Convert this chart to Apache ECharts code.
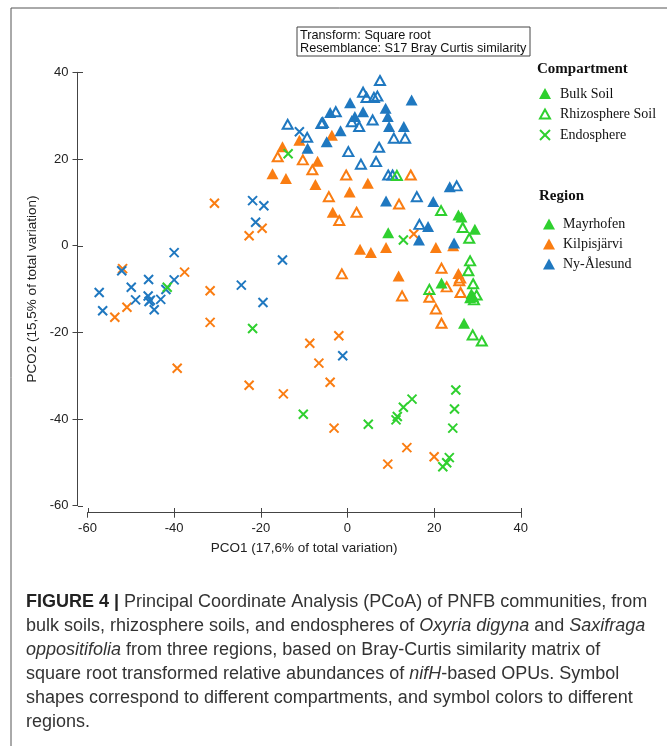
<!DOCTYPE html>
<html><head><meta charset="utf-8">
<script src="https://cdn.jsdelivr.net/npm/echarts@6/dist/echarts.min.js"></script>
<style>html,body{margin:0;padding:0;background:#fff}#c{width:667px;height:746px}</style>
</head><body><div id="c"></div>
<script>
// ---- data ----
const xTicks = [-60, -40, -20, 0, 20, 40];
const yTicks = [-60, -40, -20, 0, 20, 40];
const compartments = ['Bulk Soil', 'Rhizosphere Soil', 'Endosphere'];
const regions = ['Mayrhofen', 'Kilpisjärvi', 'Ny-Ålesund'];

const bulkMayrhofen = [[25.6,7.1],[26.3,6.6],[29.4,3.8],[9.4,3.0],[21.7,-8.6],[28.6,-11.1],[29.0,-11.8],[28.3,-12.0],[26.9,-17.9]];
const rhizoMayrhofen = [[21.6,8.1],[26.6,4.2],[28.1,1.7],[28.3,-3.5],[27.9,-5.8],[29.0,-8.8],[29.8,-11.4],[29.2,-12.5],[18.9,-10.1],[28.9,-20.6],[31.0,-22.0],[11.4,16.2]];
const endoMayrhofen = [[-10.2,-38.9],[4.8,-41.2],[11.2,-40.2],[11.5,-39.4],[12.9,-37.3],[14.9,-35.4],[25.0,-33.3],[24.7,-37.7],[24.3,-42.1],[23.5,-48.9],[22.9,-50.1],[22.0,-51.0],[-21.9,-19.1],[-41.6,-9.6],[-13.7,21.2],[12.9,1.3]];

const bulkKilpisjarvi = [[-15.0,22.8],[-11.1,24.3],[-3.6,25.5],[-6.9,19.5],[-17.3,16.6],[-14.2,15.5],[-7.4,14.1],[4.7,14.4],[0.5,12.4],[-3.4,7.7],[2.9,-0.8],[5.4,-1.6],[8.9,-0.4],[20.4,-0.4],[24.4,0.0],[11.8,-7.0],[25.6,-6.4]];
const rhizoKilpisjarvi = [[-16.1,20.5],[-10.3,19.8],[-8.1,17.5],[-0.3,16.3],[14.6,16.3],[-4.3,11.3],[2.1,7.7],[-1.9,5.8],[-1.3,-6.5],[11.9,9.6],[21.7,-5.2],[26.0,-7.5],[12.6,-11.6],[18.9,-11.9],[20.4,-14.6],[22.9,-9.5],[25.8,-8.1],[26.1,-10.8],[21.7,-17.9]];
const endoKilpisjarvi = [[-30.7,9.8],[-22.7,2.3],[-19.7,4.0],[-51.9,-5.3],[-37.6,-6.1],[-50.9,-14.2],[-53.7,-16.5],[-31.7,-10.4],[-31.7,-17.7],[-39.3,-28.3],[-22.7,-32.2],[-14.8,-34.2],[-8.7,-22.5],[-2.0,-20.8],[-6.6,-27.1],[-4.0,-31.5],[-3.1,-42.1],[13.7,-46.6],[9.3,-50.4],[20.0,-48.7],[15.3,2.7]];

const bulkNyAlesund = [[14.8,33.6],[0.6,33.0],[-4.0,30.7],[3.6,30.9],[1.7,29.8],[8.8,31.7],[9.3,29.8],[9.6,27.5],[13.0,27.5],[-1.6,26.5],[-4.8,24.0],[-9.2,22.5],[8.9,10.3],[19.8,10.2],[23.6,13.6],[18.6,4.4],[16.5,1.3],[24.6,0.6]];
const rhizoNyAlesund = [[7.5,38.1],[3.6,35.4],[4.4,34.2],[6.1,34.2],[6.9,34.5],[-2.7,30.9],[1.0,28.6],[2.7,27.5],[5.8,29.0],[-5.7,28.4],[-9.3,25.0],[10.7,24.8],[13.3,24.8],[0.2,21.7],[7.3,22.7],[3.1,18.8],[6.6,19.4],[9.4,16.3],[10.4,16.3],[25.2,13.8],[16.0,11.3],[16.6,4.9],[-13.8,28.0],[-6.0,28.2]];
const endoNyAlesund = [[-21.9,10.4],[-19.3,9.2],[-21.2,5.4],[-40.0,-1.6],[-52.1,-5.8],[-57.3,-10.8],[-49.9,-9.6],[-45.9,-7.8],[-48.9,-12.5],[-46.0,-11.6],[-45.5,-12.6],[-45.8,-12.9],[-43.1,-12.4],[-44.6,-14.8],[-56.5,-15.0],[-41.9,-10.1],[-40.0,-7.9],[-24.5,-9.1],[-19.5,-13.1],[-15.0,-3.3],[-11.1,26.3],[-1.1,-25.4]];

// ---- styles ----
const colors = { 'Mayrhofen': '#2fd02f', 'Kilpisjärvi': '#fa7d12', 'Ny-Ålesund': '#1f78c0' };
const XPATH = 'path://M0,0L10,10M10,0L0,10';

function mk(comp, region, data) {
  const c = colors[region];
  const s = { type: 'scatter', name: comp + ' ' + region, data: data, xAxisIndex: 0, yAxisIndex: 0, silent: true, animation: false };
  if (comp === 'Bulk Soil') {
    s.symbol = 'triangle'; s.symbolSize = [12, 11];
    s.itemStyle = { color: c, opacity: 1 };
  } else if (comp === 'Rhizosphere Soil') {
    s.symbol = 'triangle'; s.symbolSize = [10, 9];
    s.itemStyle = { color: 'transparent', borderColor: c, borderWidth: 2, opacity: 1 };
  } else {
    s.symbol = XPATH; s.symbolSize = 9;
    s.itemStyle = { color: 'transparent', borderColor: c, borderWidth: 2, opacity: 1 };
  }
  return s;
}

const series = [
  mk('Bulk Soil', 'Kilpisjärvi', bulkKilpisjarvi),
  mk('Rhizosphere Soil', 'Kilpisjärvi', rhizoKilpisjarvi),
  mk('Endosphere', 'Kilpisjärvi', endoKilpisjarvi),
  mk('Bulk Soil', 'Ny-Ålesund', bulkNyAlesund),
  mk('Rhizosphere Soil', 'Ny-Ålesund', rhizoNyAlesund),
  mk('Endosphere', 'Ny-Ålesund', endoNyAlesund),
  mk('Bulk Soil', 'Mayrhofen', bulkMayrhofen),
  mk('Rhizosphere Soil', 'Mayrhofen', rhizoMayrhofen),
  mk('Endosphere', 'Mayrhofen', endoMayrhofen)
];

const axisFont = { fontFamily: 'Liberation Sans', fontSize: 13, color: '#222' };
const lineStyle = { color: '#444', width: 1 };

// grid geometry
const GL = 87.5, GR = 146.2, GT = 72.3, GB = 240.3, W = 667, H = 746;
const XOFF = 7, YOFF = 10, TICK = 5;

const xAxis = {
  type: 'value', min: xTicks[0], max: xTicks[xTicks.length - 1], interval: 20,
  position: 'bottom', offset: XOFF,
  axisLine: { show: true, onZero: false, lineStyle: lineStyle },
  axisTick: { show: true, inside: false, length: TICK, lineStyle: lineStyle },
  axisLabel: { show: true, margin: 9, ...axisFont },
  splitLine: { show: false },
  name: 'PCO1 (17,6% of total variation)',
  nameLocation: 'middle', nameGap: 29,
  nameTextStyle: { fontFamily: 'Liberation Sans', fontSize: 13.5, color: '#222' }
};
const yAxis = {
  type: 'value', min: yTicks[0], max: yTicks[yTicks.length - 1], interval: 20,
  position: 'left', offset: YOFF,
  axisLine: { show: true, onZero: false, lineStyle: lineStyle },
  axisTick: { show: true, inside: false, length: TICK, lineStyle: lineStyle },
  axisLabel: { show: true, margin: 9, ...axisFont },
  splitLine: { show: false },
  name: 'PCO2 (15,5% of total variation)',
  nameLocation: 'middle', nameGap: 34, nameRotate: 90,
  nameTextStyle: { fontFamily: 'Liberation Sans', fontSize: 13.5, color: '#222' }
};

// legend graphics
const legendEls = [];
legendEls.push({ type: 'text', left: 537, top: 62, style: { text: 'Compartment', font: 'bold 15px "Liberation Serif"', fill: '#111' } });
const compIcons = ['filled', 'hollow', 'x'];
const compY = [94, 114.5, 135];
compartments.forEach((name, i) => {
  const cy = compY[i], cx = 545, g = colors['Mayrhofen'];
  if (compIcons[i] === 'filled') {
    legendEls.push({ type: 'polygon', shape: { points: [[cx, cy - 6], [cx - 6, cy + 5], [cx + 6, cy + 5]] }, style: { fill: g } });
  } else if (compIcons[i] === 'hollow') {
    legendEls.push({ type: 'polygon', shape: { points: [[cx, cy - 5], [cx - 5, cy + 4], [cx + 5, cy + 4]] }, style: { fill: 'none', stroke: g, lineWidth: 2 } });
  } else {
    legendEls.push({ type: 'polyline', shape: { points: [[cx - 5, cy - 5], [cx + 5, cy + 5]] }, style: { stroke: g, lineWidth: 2 } });
    legendEls.push({ type: 'polyline', shape: { points: [[cx + 5, cy - 5], [cx - 5, cy + 5]] }, style: { stroke: g, lineWidth: 2 } });
  }
  legendEls.push({ type: 'text', x: 560, y: cy, style: { text: name, font: '14px "Liberation Serif"', fill: '#111', verticalAlign: 'middle' } });
});
legendEls.push({ type: 'text', left: 539, top: 189, style: { text: 'Region', font: 'bold 15px "Liberation Serif"', fill: '#111' } });
const regY = [224.5, 244.5, 264.5];
regions.forEach((name, i) => {
  const cy = regY[i], cx = 549;
  legendEls.push({ type: 'polygon', shape: { points: [[cx, cy - 6], [cx - 6, cy + 5], [cx + 6, cy + 5]] }, style: { fill: colors[name] } });
  legendEls.push({ type: 'text', x: 563, y: cy, style: { text: name, font: '14px "Liberation Serif"', fill: '#111', verticalAlign: 'middle' } });
});

const captionLines = [
  '{b|FIGURE 4 |} Principal Coordinate Analysis (PCoA) of PNFB communities, from',
  'bulk soils, rhizosphere soils, and endospheres of {i|Oxyria digyna} and {i|Saxifraga}',
  '{i|oppositifolia} from three regions, based on Bray-Curtis similarity matrix of',
  'square root transformed relative abundances of {i|nifH}-based OPUs. Symbol',
  'shapes correspond to different compartments, and symbol colors to different',
  'regions.'
];
const CAP = 18;
const capEls = captionLines.map((t, i) => ({
  type: 'text', x: 26, y: 602 + i * 24.1,
  style: {
    text: t, fill: '#333', font: CAP + 'px "Liberation Sans"', verticalAlign: 'middle',
    rich: {
      b: { fontWeight: 'bold', fontSize: CAP, fontFamily: 'Liberation Sans', fill: '#222' },
      i: { fontStyle: 'italic', fontSize: CAP, fontFamily: 'Liberation Sans', fill: '#333' }
    }
  }
}));

const baseGraphic = [
  { type: 'rect', shape: { x: 11, y: 8, width: 720, height: 780 }, style: { fill: 'none', stroke: '#555', lineWidth: 1 }, silent: true },
  { type: 'rect', shape: { x: 297, y: 27, width: 233, height: 29 }, style: { fill: '#fff', stroke: '#444', lineWidth: 1 } },
  { type: 'text', x: 300, y: 35, style: { text: 'Transform: Square root', font: '12.7px "Liberation Sans"', fill: '#111', verticalAlign: 'middle' } },
  { type: 'text', x: 300, y: 48, style: { text: 'Resemblance: S17 Bray Curtis similarity', font: '12.7px "Liberation Sans"', fill: '#111', verticalAlign: 'middle' } },
  ...legendEls,
  ...capEls
];

const chart = echarts.init(document.getElementById('c'), null, { renderer: 'canvas' });
chart.setOption({
  backgroundColor: '#fff',
  animation: false,
  grid: { left: GL, right: GR, top: GT, bottom: GB, containLabel: false },
  xAxis: xAxis,
  yAxis: yAxis,
  series: series
});

// inner half of the crossing ticks, positioned through the axes' own scales
const xLineY = Math.round(H - GB + XOFF), yLineX = Math.round(GL - YOFF);
const innerTicks = [];
xTicks.forEach(v => {
  const p = Math.round(chart.convertToPixel({ xAxisIndex: 0 }, v)) + 0.5;
  innerTicks.push({ type: 'line', shape: { x1: p, y1: xLineY - TICK, x2: p, y2: xLineY }, style: { stroke: '#444', lineWidth: 1 }, silent: true });
});
yTicks.forEach(v => {
  const p = Math.round(chart.convertToPixel({ yAxisIndex: 0 }, v)) + 0.5;
  innerTicks.push({ type: 'line', shape: { x1: yLineX, y1: p, x2: yLineX + TICK, y2: p }, style: { stroke: '#444', lineWidth: 1 }, silent: true });
});
chart.setOption({ graphic: [...baseGraphic, ...innerTicks] });
</script>
</body></html>
